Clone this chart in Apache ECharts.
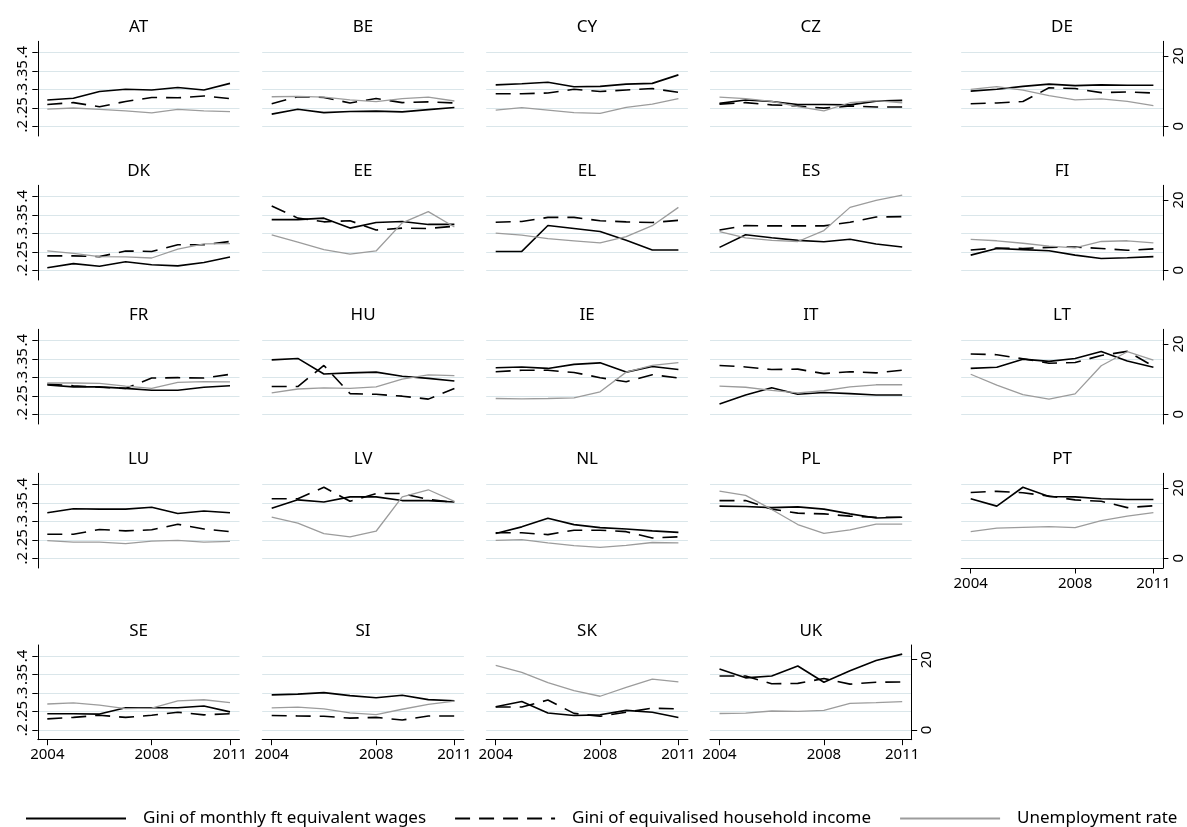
<!DOCTYPE html>
<html>
<head>
<meta charset="utf-8">
<script src="https://cdn.jsdelivr.net/npm/echarts@6/dist/echarts.min.js"></script>
<style>
html,body{margin:0;padding:0;background:#ffffff;}
#chart{width:1187px;height:827px;}
</style>
</head>
<body>
<div id="chart"></div>
<script>
// ---------------- data ----------------
const countries = ['AT','BE','CY','CZ','DE','DK','EE','EL','ES','FI','FR','HU','IE','IT','LT','LU','LV','NL','PL','PT','SE','SI','SK','UK'];
const years = [2004, 2005, 2006, 2007, 2008, 2009, 2010, 2011];

// Gini of monthly full-time equivalent wages (left axis)
const wageGini = [
  [.271,.276,.294,.300,.298,.305,.298,.316], // AT
  [.233,.246,.237,.240,.241,.239,.245,.251], // BE
  [.312,.315,.319,.307,.308,.314,.316,.339], // CY
  [.262,.271,.267,.259,.259,.258,.268,.270], // CZ
  [.295,.300,.308,.314,.310,.312,.311,.311], // DE
  [.207,.218,.211,.223,.215,.212,.221,.236], // DK
  [.337,.337,.341,.314,.329,.332,.324,.324], // EE
  [.251,.251,.321,.313,.305,.281,.255,.255], // EL
  [.262,.296,.288,.281,.277,.284,.271,.263], // ES
  [.241,.259,.256,.253,.241,.232,.234,.237], // FI
  [.279,.274,.274,.270,.265,.265,.273,.277], // FR
  [.347,.351,.309,.312,.314,.303,.297,.290], // HU
  [.326,.328,.324,.335,.339,.314,.329,.321], // IE
  [.228,.252,.272,.254,.259,.256,.252,.252], // IT
  [.324,.327,.349,.343,.351,.370,.344,.327], // LT
  [.323,.334,.333,.333,.338,.321,.328,.323], // LU
  [.335,.358,.352,.366,.366,.356,.356,.352], // LV
  [.267,.285,.308,.291,.283,.279,.274,.270], // NL
  [.341,.340,.337,.339,.333,.320,.309,.311], // PL
  [.361,.341,.392,.367,.366,.361,.359,.359], // PT
  [.244,.244,.243,.260,.260,.260,.265,.249], // SE
  [.295,.297,.301,.293,.287,.294,.282,.279], // SI
  [.263,.277,.246,.239,.241,.253,.248,.234], // SK
  [.365,.341,.346,.373,.329,.360,.388,.405]  // UK
];

// Gini of equivalised household income (left axis)
const hhGini = [
  [.259,.264,.253,.267,.278,.277,.282,.275], // AT
  [.261,.280,.278,.263,.275,.264,.266,.263], // BE
  [.288,.288,.290,.300,.294,.298,.302,.292], // CY
  [.260,.264,.258,.255,.249,.255,.252,.252], // CZ
  [.261,.263,.267,.304,.302,.291,.293,.290], // DE
  [.239,.239,.237,.252,.251,.269,.269,.278], // DK
  [.374,.341,.331,.334,.309,.314,.313,.319], // EE
  [.330,.332,.343,.343,.334,.331,.329,.335], // EL
  [.309,.321,.320,.320,.320,.330,.344,.345], // ES
  [.255,.260,.259,.262,.263,.259,.254,.258], // FI
  [.282,.277,.273,.270,.298,.299,.298,.308], // FR
  [.275,.275,.332,.256,.254,.249,.241,.270], // HU
  [.315,.319,.319,.313,.299,.288,.307,.298], // IE
  [.332,.328,.321,.322,.310,.315,.312,.319], // IT
  [.363,.361,.350,.338,.340,.359,.370,.330], // LT
  [.265,.265,.278,.274,.277,.292,.279,.272], // LU
  [.361,.361,.392,.354,.375,.375,.359,.351], // LV
  [.269,.269,.264,.276,.276,.272,.255,.258], // NL
  [.356,.356,.333,.322,.320,.314,.311,.311], // PL
  [.378,.381,.377,.368,.358,.354,.337,.342], // PT
  [.230,.234,.240,.234,.240,.248,.241,.244], // SE
  [.239,.238,.237,.232,.234,.227,.238,.238], // SI
  [.262,.262,.281,.245,.237,.248,.259,.257], // SK
  [.346,.346,.325,.326,.339,.324,.329,.330]  // UK
];

// Unemployment rate, % (right axis)
const unemp = [
  [4.9,5.2,4.8,4.4,3.8,4.8,4.4,4.2],        // AT
  [8.4,8.5,8.3,7.5,7.0,7.9,8.3,7.2],        // BE
  [4.6,5.3,4.6,3.9,3.7,5.4,6.3,7.9],        // CY
  [8.3,7.9,7.1,5.6,4.4,6.7,7.3,6.7],        // CZ
  [10.5,11.3,10.3,8.7,7.5,7.8,7.1,5.9],     // DE
  [5.5,4.8,3.9,3.8,3.5,6.0,7.5,7.6],        // DK
  [10.1,8.0,5.9,4.6,5.5,13.5,16.7,12.3],    // EE
  [10.6,10.0,9.0,8.4,7.8,9.6,12.7,17.9],    // EL
  [11.0,9.2,8.5,8.2,11.3,17.9,19.9,21.4],   // ES
  [8.8,8.4,7.7,6.9,6.4,8.2,8.4,7.8],        // FI
  [8.9,8.9,8.8,8.0,7.4,9.1,9.3,9.2],        // FR
  [6.1,7.2,7.5,7.4,7.8,10.0,11.2,11.0],     // HU
  [4.5,4.4,4.5,4.7,6.4,12.0,13.9,14.7],     // IE
  [8.0,7.7,6.8,6.1,6.7,7.8,8.4,8.4],        // IT
  [11.4,8.3,5.6,4.3,5.8,13.8,17.8,15.4],    // LT
  [5.0,4.6,4.6,4.2,4.9,5.1,4.6,4.8],        // LU
  [11.7,10.0,7.0,6.1,7.7,17.5,19.5,16.2],   // LV
  [5.1,5.3,4.4,3.6,3.1,3.7,4.5,4.4],        // NL
  [19.1,17.9,13.9,9.6,7.1,8.1,9.7,9.7],     // PL
  [7.6,8.6,8.8,9.0,8.7,10.7,12.0,13.0],     // PT
  [7.4,7.7,7.1,6.1,6.2,8.3,8.6,7.8],        // SE
  [6.3,6.5,6.0,4.9,4.4,5.9,7.3,8.2],        // SI
  [18.4,16.4,13.5,11.2,9.6,12.1,14.5,13.7], // SK
  [4.7,4.8,5.4,5.3,5.6,7.6,7.8,8.1]         // UK
];

const seriesNames = ['Gini of monthly ft equivalent wages', 'Gini of equivalised household income', 'Unemployment rate'];
const giniTicks = [0.2, 0.25, 0.3, 0.35, 0.4];
const giniTickLabels = ['.2', '.25', '.3', '.35', '.4'];
const unempTicks = [0, 20];
const yearTicks = [2004, 2008, 2011];

// ---------------- layout ----------------
const FONT = 'Noto Sans';
const COLX = [37.8, 262.2, 486.2, 710.0, 961.2];
const ROWY = [52.3, 196.3, 340.3, 484.3, 656];   // y of the .4 gridline
const PW = 201.7, PH = 94.7, TOPPAD = 11, BOTPAD = 9.7;
const GPX = 74 / 0.2;          // px per unit on the Gini axis
const UPX = 70.3 / 20;         // px per unit on the unemployment axis
const gMin = 0.2 - BOTPAD / GPX, gMax = 0.4 + TOPPAD / GPX;
const uMin = -BOTPAD / UPX, uMax = (PH - BOTPAD) / UPX;
const xPad = 9.5 / 26.1;

const grids = [], xAxes = [], yAxes = [], series = [], graphics = [];
const near = (arr, v) => arr.findIndex(t => Math.abs(t - v) < 1e-6);

countries.forEach((c, i) => {
  const row = Math.floor(i / 5), col = i % 5;
  const left = COLX[col], top = ROWY[row] - TOPPAD;
  const showLeft = col === 0;
  const showRight = col === 4 || c === 'UK';
  const showX = row === 4 || c === 'PT';

  grids.push({ left: left, top: top, width: PW, height: PH, containLabel: false, outerBoundsMode: 'none' });

  xAxes.push({
    type: 'value', gridIndex: i, min: 2004 - xPad, max: 2011 + xPad,
    show: showX,
    axisLine: { show: showX, onZero: false, lineStyle: { color: '#000', width: 1 } },
    axisTick: { show: showX, length: 5.5, customValues: yearTicks, lineStyle: { color: '#000' } },
    axisLabel: { show: showX, customValues: yearTicks, margin: 8, color: '#000', fontFamily: FONT, fontSize: 15,
                 hideOverlap: false, formatter: v => String(Math.round(v)) },
    splitLine: { show: false }
  });

  yAxes.push({
    type: 'value', gridIndex: i, position: 'left', min: gMin, max: gMax,
    axisLine: { show: showLeft, onZero: false, lineStyle: { color: '#000', width: 1 } },
    axisTick: { show: showLeft, length: 5.5, customValues: giniTicks, lineStyle: { color: '#000' } },
    axisLabel: { show: showLeft, customValues: giniTicks, rotate: 90, margin: 8, color: '#000', fontFamily: FONT, fontSize: 15,
                 hideOverlap: false,
                 formatter: v => { const k = near(giniTicks, v); return k >= 0 ? giniTickLabels[k] : ''; } },
    splitLine: { show: true, lineStyle: { color: '#dae6ea', width: 1 } }
  });

  yAxes.push({
    type: 'value', gridIndex: i, position: 'right', min: uMin, max: uMax,
    show: showRight,
    axisLine: { show: showRight, onZero: false, lineStyle: { color: '#000', width: 1 } },
    axisTick: { show: showRight, length: 5.5, customValues: unempTicks, lineStyle: { color: '#000' } },
    axisLabel: { show: showRight, customValues: unempTicks, rotate: 90, margin: 8, color: '#000', fontFamily: FONT, fontSize: 15,
                 hideOverlap: false, formatter: v => String(Math.round(v)) },
    splitLine: { show: false }
  });

  const mk = arr => years.map((y, k) => [y, arr[k]]);
  series.push({
    name: seriesNames[0], type: 'line', xAxisIndex: i, yAxisIndex: 2 * i, data: mk(wageGini[i]),
    symbol: 'none', lineStyle: { color: '#000', width: 1.6 }, itemStyle: { color: '#000' }, z: 3
  });
  series.push({
    name: seriesNames[1], type: 'line', xAxisIndex: i, yAxisIndex: 2 * i, data: mk(hhGini[i]),
    symbol: 'none', lineStyle: { color: '#000', width: 1.6, type: [15, 9] }, itemStyle: { color: '#000' }, z: 3
  });
  series.push({
    name: seriesNames[2], type: 'line', xAxisIndex: i, yAxisIndex: 2 * i + 1, data: mk(unemp[i]),
    symbol: 'none', lineStyle: { color: '#9c9c9c', width: 1.3 }, itemStyle: { color: '#9c9c9c' }, z: 3
  });

  graphics.push({
    type: 'text', x: left + PW / 2, y: ROWY[row] - 25,
    style: { text: c, fill: '#000', font: '17px "' + FONT + '"', align: 'center', verticalAlign: 'middle' }
  });
});

const chart = echarts.init(document.getElementById('chart'), null, { renderer: 'canvas' });
chart.setOption({
  animation: false,
  backgroundColor: '#ffffff',
  grid: grids,
  xAxis: xAxes,
  yAxis: yAxes,
  series: series,
  graphic: graphics,
  legend: {
    data: seriesNames,
    left: 25, top: 810, orient: 'horizontal', padding: 0,
    itemWidth: 100, itemHeight: 16, itemGap: 28,
    selectedMode: false,
    itemStyle: { opacity: 0 },
    lineStyle: { width: 2 },
    textStyle: { color: '#000', fontFamily: FONT, fontSize: 17, padding: [0, 0, 0, 12] }
  }
});
</script>
</body>
</html>
